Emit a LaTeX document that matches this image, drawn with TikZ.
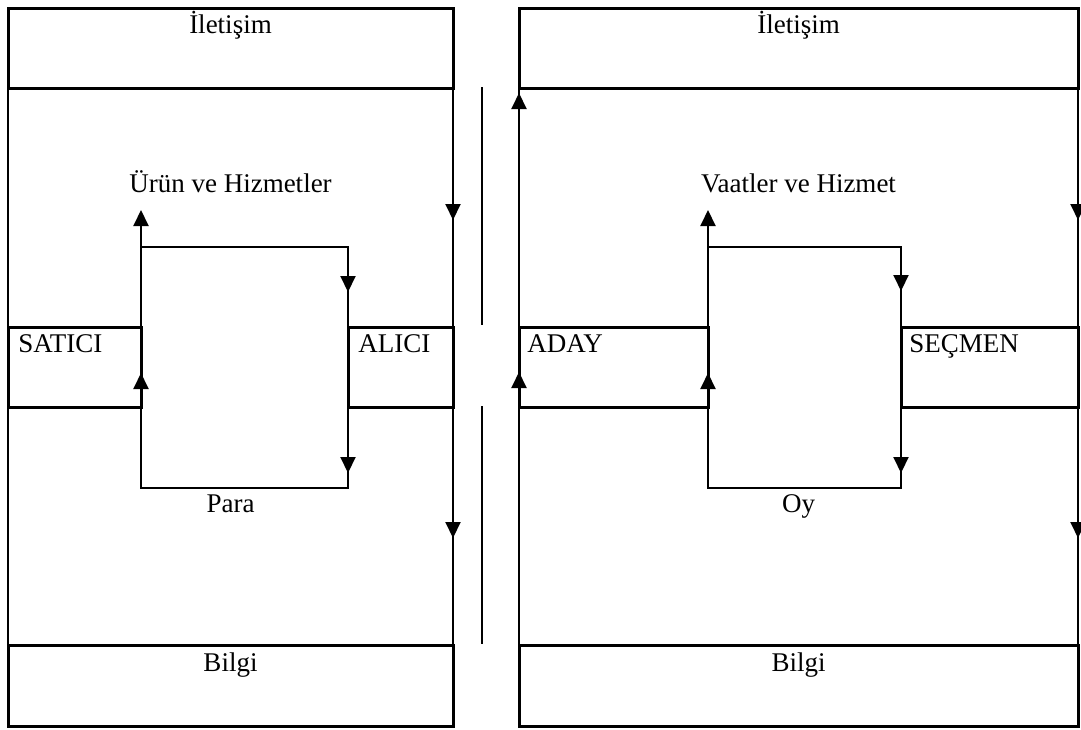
\documentclass[tikz,border=0pt]{standalone}
\usepackage{fontspec}
\setmainfont{Liberation Serif}
\usetikzlibrary{arrows.meta}
\begin{document}
\begin{tikzpicture}[x=0.5pt,y=-0.5pt,
  boxline/.style={line width=1.5pt},
  flow/.style={line width=1pt},
  thinflow/.style={line width=0.6pt},
  tiparrow/.style={line width=1pt,-{Triangle[width=7.5pt,length=8pt]}},
  lbl/.style={inner sep=0pt, font=\fontsize{13.5pt}{16pt}\selectfont}]
\useasboundingbox (0,0) rectangle (1081,729);

% ---------- named points ----------
% left panel
\coordinate (LtopL) at (8,88);   \coordinate (LbotL) at (8,645);
\coordinate (LtopR) at (453,88); \coordinate (LbotR) at (453,645);
\coordinate (LinA) at (141,247); \coordinate (LinB) at (348,488);
\coordinate (LupEnd) at (141,210);
% separator
\coordinate (S1) at (482,87);  \coordinate (S2) at (482,325);
\coordinate (S3) at (482,406); \coordinate (S4) at (482,644);
% right panel
\coordinate (RtopL) at (519,88);   \coordinate (RbotL) at (519,645);
\coordinate (RtopR) at (1078,88);  \coordinate (RbotR) at (1078,645);
\coordinate (RinA) at (708,247);   \coordinate (RinB) at (901,488);
\coordinate (RupEnd) at (708,210);

% ---------- connectors (left) ----------
\draw[flow] (LtopL) -- (LbotL);
\draw[flow] (LtopR) -- (LbotR);
\draw[flow] (LinA) rectangle (LinB);
\draw[thinflow] (LinA) -- (141,226);
\draw[tiparrow] (141,226) -- (LupEnd);
\draw[tiparrow] (453,204) -- (453,220);
\draw[tiparrow] (453,522) -- (453,538);
\draw[tiparrow] (348,276) -- (348,292);
\draw[tiparrow] (348,457) -- (348,473);
\draw[tiparrow] (141,389) -- (141,373);

% separator
\draw[flow] (S1) -- (S2);
\draw[flow] (S3) -- (S4);

% ---------- connectors (right) ----------
\draw[flow] (RtopL) -- (RbotL);
\draw[flow] (RtopR) -- (RbotR);
\draw[flow] (RinA) rectangle (RinB);
\draw[thinflow] (RinA) -- (708,226);
\draw[tiparrow] (708,226) -- (RupEnd);
\draw[tiparrow] (519,109) -- (519,93);
\draw[tiparrow] (519,388) -- (519,372);
\draw[tiparrow] (1078,204) -- (1078,220);
\draw[tiparrow] (1078,522) -- (1078,538);
\draw[tiparrow] (901,275) -- (901,291);
\draw[tiparrow] (901,457) -- (901,473);
\draw[tiparrow] (708,389) -- (708,373);

% ---------- boxes ----------
\draw[boxline] (8,8) rectangle (453,88);
\draw[boxline] (8,645) rectangle (453,726);
\draw[boxline] (8,327) rectangle (141,407);
\draw[boxline] (348,327) rectangle (453,407);
\draw[boxline] (519,8) rectangle (1078,88);
\draw[boxline] (519,645) rectangle (1078,726);
\draw[boxline] (519,327) rectangle (708,407);
\draw[boxline] (901,327) rectangle (1078,407);

% ---------- labels ----------
\node[lbl, anchor=base] (comL) at (230.5,33) {İletişim};
\node[lbl, anchor=base] (prodL) at (230.5,192) {Ürün ve Hizmetler};
\node[lbl, anchor=base west] (sat) at (18,352) {SATICI};
\node[lbl, anchor=base west] (alc) at (358,352) {ALICI};
\node[lbl, anchor=base] (para) at (230.5,512) {Para};
\node[lbl, anchor=base] (infL) at (230.5,671) {Bilgi};

\node[lbl, anchor=base] (comR) at (798.5,33) {İletişim};
\node[lbl, anchor=base] (prodR) at (798.5,192) {Vaatler ve Hizmet};
\node[lbl, anchor=base west] (aday) at (527,352) {ADAY};
\node[lbl, anchor=base west] (secm) at (909,352) {SEÇMEN};
\node[lbl, anchor=base] (oy) at (798.5,512) {Oy};
\node[lbl, anchor=base] (infR) at (798.5,671) {Bilgi};
\end{tikzpicture}
\end{document}
